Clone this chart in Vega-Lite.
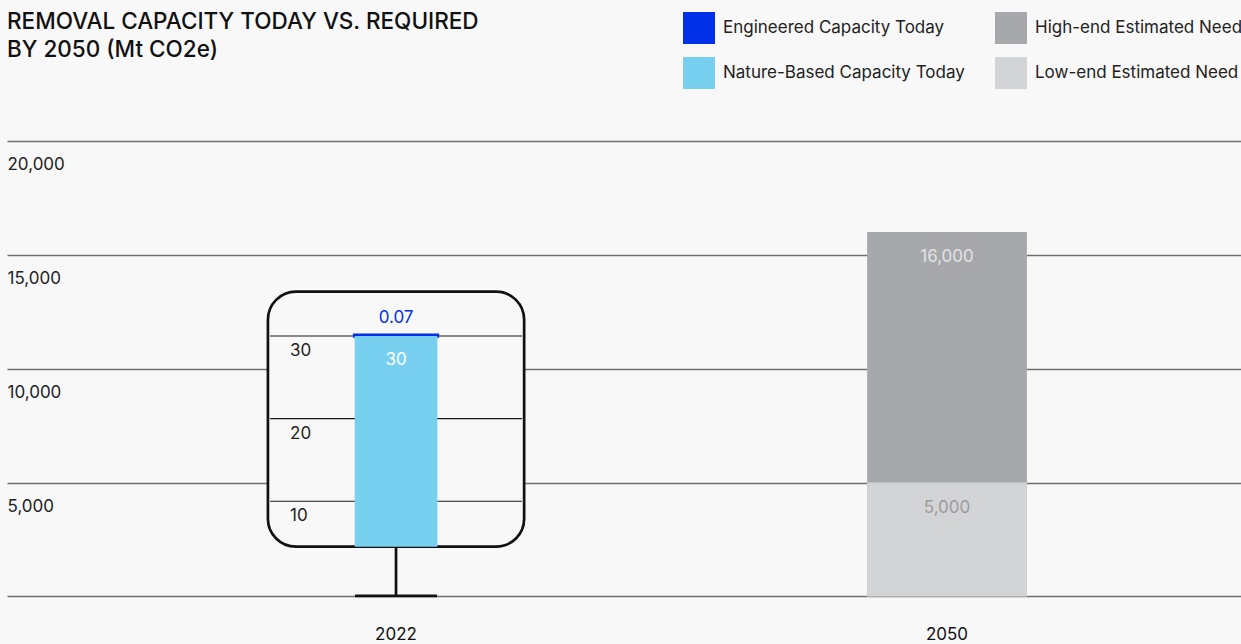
{
  "$schema": "https://vega.github.io/schema/vega-lite/v6.json",
  "width": 1234,
  "height": 644,
  "autosize": {"type": "none"},
  "padding": {"left": 7, "top": 0, "right": 0, "bottom": 0},
  "background": "#f8f8f8",
  "title": {
    "text": ["REMOVAL CAPACITY TODAY VS. REQUIRED", "BY 2050 (Mt CO2e)"],
    "anchor": "start",
    "frame": "group",
    "orient": "top",
    "offset": 0,
    "baseline": "top",
    "dy": 61,
    "font": "Inter",
    "fontSize": 22.5,
    "fontWeight": 500,
    "lineHeight": 28,
    "color": "#111111"
  },
  "datasets": {
    "capacity": [
      {"year": "2022", "series": "Nature-Based Capacity Today", "value": 30},
      {"year": "2022", "series": "Engineered Capacity Today", "value": 0.07},
      {"year": "2050", "series": "High-end Estimated Need", "value": 16000},
      {"year": "2050", "series": "Low-end Estimated Need", "value": 5000}
    ],
    "zoomTicks": [{"tick": 10}, {"tick": 20}, {"tick": 30}]
  },
  "data": {"name": "capacity"},
  "layer": [
    {
      "layer": [
        {
          "transform": [{"filter": "datum.year === '2050'"}],
          "mark": {"type": "bar", "width": {"band": 0.29}},
          "encoding": {
            "x": {
              "field": "year",
              "type": "nominal",
              "scale": {"domain": ["2022", "2050"], "paddingInner": 0, "paddingOuter": 0.1198, "align": 0.86},
              "axis": {
                "title": null,
                "domain": false,
                "ticks": false,
                "labelAngle": 0,
                "labelFontSize": 17,
                "labelColor": "#111111",
                "labelPadding": 4,
                "offset": -22,
                "grid": false
              }
            },
            "y": {
              "field": "value",
              "type": "quantitative",
              "stack": null,
              "scale": {"domain": [-2086, 26191], "nice": false, "zero": false},
              "axis": {
                "title": null,
                "values": [0, 5000, 10000, 15000, 20000],
                "grid": true,
                "gridColor": "#707070",
                "gridWidth": 1.4,
                "domain": false,
                "ticks": false,
                "tickSize": 0,
                "labelAlign": "left",
                "labelPadding": 0,
                "labelBaseline": "middle",
                "labelOffset": 24,
                "labelFontSize": 17,
                "labelColor": "#222222",
                "labelExpr": "datum.value === 0 ? '' : format(datum.value, ',')"
              }
            },
            "color": {
              "field": "series",
              "type": "nominal",
              "scale": {
                "domain": ["Engineered Capacity Today", "Nature-Based Capacity Today", "High-end Estimated Need", "Low-end Estimated Need"],
                "range": ["#0030e8", "#78d0f1", "#a7a8ab", "#d3d4d6"]
              },
              "legend": {
                "title": null,
                "orient": "none",
                "legendX": 676,
                "legendY": 12,
                "columns": 2,
                "padding": 0,
                "symbolType": "square",
                "symbolSize": 1024,
                "symbolStrokeWidth": 0,
                "symbolOpacity": 1,
                "labelFontSize": 17,
                "labelOffset": 8,
                "labelLimit": 400,
                "labelColor": "#222222",
                "rowPadding": 13,
                "columnPadding": 30
              }
            }
          }
        },
        {
          "transform": [{"filter": "datum.year === '2050'"}],
          "mark": {"type": "text", "dy": 25, "fontSize": 17, "baseline": "middle"},
          "encoding": {
            "x": {"field": "year", "type": "nominal"},
            "y": {"field": "value", "type": "quantitative"},
            "text": {"field": "value", "type": "quantitative", "format": ","},
            "color": {
              "condition": {"test": "datum.series === 'High-end Estimated Need'", "value": "#e3e3e4"},
              "value": "#9b9b9d"
            }
          }
        },
        {
          "transform": [{"filter": "datum.series === 'Nature-Based Capacity Today'"}],
          "mark": {"type": "rule", "strokeWidth": 2.7, "color": "#111111", "opacity": 1},
          "encoding": {
            "x": {"field": "year", "type": "nominal"},
            "y": {"field": "value", "type": "quantitative"},
            "y2": {"datum": 2187}
          }
        },
        {
          "transform": [{"filter": "datum.series === 'Nature-Based Capacity Today'"}],
          "mark": {"type": "tick", "size": 82, "thickness": 2.7, "color": "#111111", "opacity": 1},
          "encoding": {
            "x": {"field": "year", "type": "nominal"},
            "y": {"field": "value", "type": "quantitative"}
          }
        }
      ]
    },
    {
      "transform": [
        {"filter": "datum.year === '2022'"},
        {"stack": "value", "groupby": ["year"], "sort": [{"field": "series", "order": "descending"}], "as": ["lo", "hi"]}
      ],
      "layer": [
        {
          "transform": [{"filter": "datum.series === 'Nature-Based Capacity Today'"}],
          "mark": {"type": "bar", "width": {"band": 0.465}, "cornerRadius": 28, "fill": "#f8f8f8", "stroke": "#111111", "strokeWidth": 2.7},
          "encoding": {
            "x": {"field": "year", "type": "nominal"},
            "y": {
              "datum": 35.36,
              "type": "quantitative",
              "scale": {"domain": [-7.27, 70.65], "nice": false, "zero": false},
              "axis": null
            },
            "y2": {"datum": 4.51}
          }
        },
        {
          "data": {"name": "zoomTicks"},
          "mark": {"type": "tick", "size": 252, "thickness": 1.1, "color": "#1a1a1a", "opacity": 1},
          "encoding": {
            "x": {"datum": "2022", "type": "nominal"},
            "y": {"field": "tick", "type": "quantitative", "axis": null}
          }
        },
        {
          "data": {"name": "zoomTicks"},
          "mark": {"type": "text", "align": "left", "baseline": "middle", "dx": -106, "dy": 15, "fontSize": 17, "color": "#222222"},
          "encoding": {
            "x": {"datum": "2022", "type": "nominal"},
            "y": {"field": "tick", "type": "quantitative", "axis": null},
            "text": {"field": "tick", "type": "quantitative"}
          }
        },
        {
          "transform": [{"filter": "datum.series === 'Engineered Capacity Today'"}],
          "mark": {"type": "bar", "width": {"band": 0.15}, "strokeWidth": 3.6},
          "encoding": {
            "x": {"field": "year", "type": "nominal"},
            "y": {"field": "hi", "type": "quantitative", "axis": null},
            "y2": {"field": "lo"},
            "color": {"field": "series", "type": "nominal"},
            "stroke": {"value": "#0030e8"}
          }
        },
        {
          "transform": [{"filter": "datum.series === 'Nature-Based Capacity Today'"}],
          "mark": {"type": "bar", "width": {"band": 0.15}},
          "encoding": {
            "x": {"field": "year", "type": "nominal"},
            "y": {"field": "hi", "type": "quantitative", "axis": null},
            "y2": {"datum": 4.51},
            "color": {"field": "series", "type": "nominal"}
          }
        },
        {
          "transform": [{"filter": "datum.series === 'Engineered Capacity Today'"}],
          "mark": {"type": "text", "baseline": "middle", "dy": -17, "fontSize": 17, "color": "#0030e8"},
          "encoding": {
            "x": {"field": "year", "type": "nominal"},
            "y": {"field": "hi", "type": "quantitative", "axis": null},
            "text": {"field": "value", "type": "quantitative"}
          }
        },
        {
          "transform": [{"filter": "datum.series === 'Nature-Based Capacity Today'"}],
          "mark": {"type": "text", "baseline": "middle", "dy": 24, "fontSize": 17, "color": "#ffffff"},
          "encoding": {
            "x": {"field": "year", "type": "nominal"},
            "y": {"field": "hi", "type": "quantitative", "axis": null},
            "text": {"field": "value", "type": "quantitative"}
          }
        }
      ]
    }
  ],
  "resolve": {"scale": {"y": "independent"}, "axis": {"y": "independent"}},
  "config": {
    "view": {"stroke": null},
    "font": "Inter",
    "text": {"font": "Inter"},
    "axis": {"labelFont": "Inter"},
    "legend": {"labelFont": "Inter"}
  }
}
